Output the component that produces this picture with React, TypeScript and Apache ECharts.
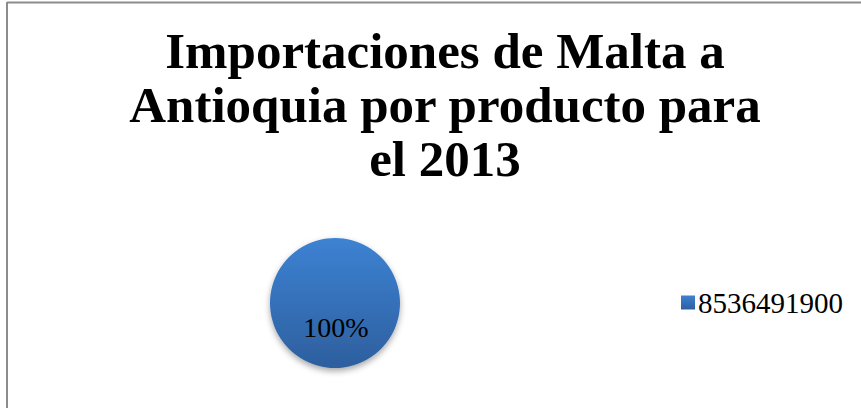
import React, { useEffect, useRef } from "react";
import * as echarts from "echarts";

const titleLines = ["Importaciones de Malta a", "Antioquia por producto para", "el 2013"];
const categories = ["8536491900"];
const values = [100];

export default function App() {
  const ref = useRef<HTMLDivElement>(null);
  useEffect(() => {
    const chart = echarts.init(ref.current!, null, { renderer: "svg" });
    chart.setOption({
      animation: false,
      backgroundColor: "#ffffff",
      title: {
        text: titleLines.join("\n"),
        left: 440,
        top: 19,
        textAlign: "center",
        textStyle: {
          fontFamily: "Liberation Serif",
          fontWeight: "bold",
          fontSize: 51,
          lineHeight: 54,
          color: "#000000",
        },
      },
      legend: {
        orient: "vertical",
        left: 676,
        top: 283,
        icon: "rect",
        itemWidth: 14,
        itemHeight: 14,
        itemGap: 8,
        textStyle: { fontFamily: "Liberation Serif", fontSize: 29, color: "#000000", padding: [0, 0, 0, -2] },
        data: categories,
      },
      series: [
        {
          type: "pie",
          center: [335, 303],
          radius: 65,
          data: categories.map((c, i) => ({ name: c, value: values[i] })),
          label: {
            position: "inside",
            formatter: "{d}%",
            fontFamily: "Liberation Serif",
            fontSize: 28,
            color: "#000000",
          },
          labelLayout: { x: 336, y: 327, align: "center", verticalAlign: "middle" },
          itemStyle: {
            color: new echarts.graphic.LinearGradient(0, 0, 0, 1, [
              { offset: 0, color: "#3d82d3" },
              { offset: 1, color: "#2d5f9e" },
            ]),
            shadowBlur: 6,
            shadowOffsetY: 3,
            shadowColor: "rgba(0,0,0,0.35)",
          },
          emphasis: { disabled: true },
        },
      ],
      graphic: [
        { type: "line", shape: { x1: 7, y1: 2.5, x2: 861, y2: 2.5 }, style: { stroke: "#8c8c8c", lineWidth: 2 } },
        { type: "line", shape: { x1: 7, y1: 2, x2: 7, y2: 408 }, style: { stroke: "#8c8c8c", lineWidth: 2 } },
      ],
    });
    return () => chart.dispose();
  }, []);
  return <div ref={ref} style={{ width: 861, height: 408, position: "absolute", left: 0, top: 0 }} />;
}
